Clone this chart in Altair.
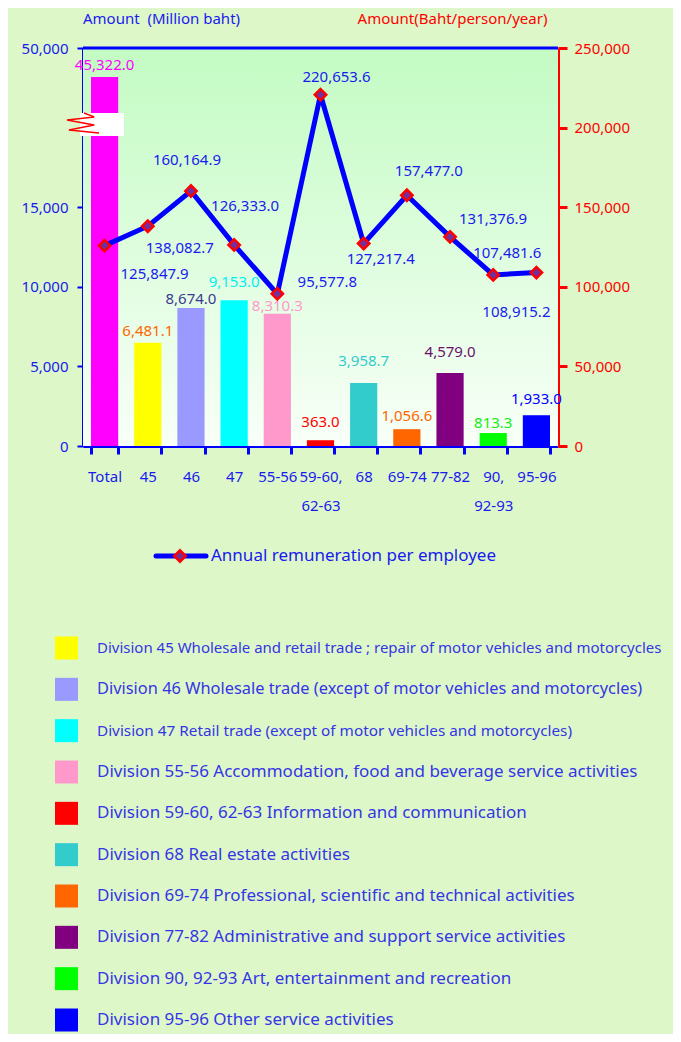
import altair as alt
import pandas as pd

# ---------------- data ----------------
codes = ["Total", "45", "46", "47", "55-56", "59-60, 62-63", "68", "69-74",
         "77-82", "90, 92-93", "95-96"]
divisions = [
    "Total",
    "Division 45 Wholesale and retail trade ; repair of motor vehicles and  motorcycles",
    "Division 46 Wholesale trade (except of motor vehicles and motorcycles)",
    "Division 47 Retail trade (except of motor vehicles and motorcycles)",
    "Division 55-56 Accommodation, food and beverage service activities",
    "Division 59-60, 62-63 Information and communication",
    "Division 68 Real estate activities",
    "Division 69-74 Professional, scientific and technical activities",
    "Division 77-82 Administrative and support service activities",
    "Division 90, 92-93 Art, entertainment and recreation",
    "Division 95-96 Other service activities",
]
amount_million = [45322.0, 6481.1, 8674.0, 9153.0, 8310.3, 363.0, 3958.7,
                  1056.6, 4579.0, 813.3, 1933.0]
remuneration = [125847.9, 138082.7, 160164.9, 126333.0, 95577.8, 220653.6,
                127217.4, 157477.0, 131376.9, 107481.6, 108915.2]
line_series_name = "Annual remuneration per employee"

# ---------------- styles ----------------
bar_colors = ["#ff00ff", "#ffff00", "#9999ff", "#00ffff", "#ff99cc", "#ff0000",
              "#33cccc", "#ff6600", "#800080", "#00ff00", "#0000ff"]
bar_label_colors = ["#ff00ff", "#ff6600", "#3b3b8f", "#00f0f0", "#ff99cc",
                    "#ff0000", "#33cccc", "#ff6600", "#6b106b", "#11ee11", "#0000ff"]
bar_label_dy = [-12, -12, -9, -18, -8, -18, -22, -13, -21, -10, -16]
line_label_offsets = [(50, 28), (32, 22), (-4, -31), (11, -39), (50, -12),
                      (16, -18), (17, 16), (22, -24), (43, -18), (14, -22),
                      (-20, 39)]
legend_font_sizes = [15, 16.4, 15.3, 17, 17, 17, 17, 17, 17, 17]

# broken left axis: the top tick (drawn at 25,000) reads 50,000
LEFT_TOP_DRAWN = 25000
LEFT_TOP_LABEL = "50,000"
TOTAL_DRAWN = 23180          # Total bar is cut by the axis break
BREAK_LO, BREAK_HI, BREAK_MID = 19470, 20920, 20290

W, H = 475, 398
BLUE = "#0000ff"
TXT_BLUE = "#1a1af0"
LEG_BLUE = "#3535e6"
RED = "#ff0000"
FONT = "Noto Sans"

df = pd.DataFrame({
    "code": codes,
    "division": divisions,
    "amount": amount_million,
    "drawn": [TOTAL_DRAWN if c == "Total" else a for c, a in zip(codes, amount_million)],
    "remun": remuneration,
    "label_color": bar_label_colors,
})
df["amount_txt"] = [f"{v:,.1f}" for v in amount_million]
df["remun_txt"] = [f"{v:,.1f}" for v in remuneration]

legend_df = pd.DataFrame({
    "division": divisions[1:],
    "color": bar_colors[1:],
    "fs": legend_font_sizes,
})

one = pd.DataFrame({"k": [0]})

x_enc = alt.X(
    "code:N", sort=codes, title=None,
    scale=alt.Scale(paddingInner=0.37, paddingOuter=0.185),
    axis=alt.Axis(
        domainColor=BLUE, domainWidth=3, tickColor=BLUE, tickWidth=3, tickSize=8,
        tickBand="extent", labelColor=TXT_BLUE, labelFontSize=15, labelFont=FONT,
        labelPadding=15, labelAngle=0, labelLineHeight=29, labelOverlap=False,
        labelBound=False, labelLimit=200,
        labelExpr="split(replace(datum.label, ', ', ',|'), '|')",
    ),
)

left_scale = alt.Scale(domain=[0, LEFT_TOP_DRAWN], nice=False, zero=True)
left_axis = alt.Axis(
    values=[0, 5000, 10000, 15000, LEFT_TOP_DRAWN],
    labelExpr=f"datum.value == {LEFT_TOP_DRAWN} ? '{LEFT_TOP_LABEL}' : format(datum.value, ',')",
    domainColor=BLUE, domainWidth=3, tickColor=BLUE, tickWidth=2, tickSize=6,
    labelColor=TXT_BLUE, labelFontSize=15, labelFont=FONT, labelPadding=9,
    grid=False, title="Amount\u00a0 (Million baht)", titleAngle=0, titleX=78,
    titleY=-30, titleAlign="center", titleBaseline="middle", titleColor=TXT_BLUE,
    titleFontSize=15, titleFontWeight="normal", titleFont=FONT,
)
right_scale = alt.Scale(domain=[0, 250000], nice=False, zero=True)
right_axis = alt.Axis(
    orient="right", values=[0, 50000, 100000, 150000, 200000, 250000],
    labelExpr="format(datum.value, ',')",
    domainColor=RED, domainWidth=3, tickColor=RED, tickWidth=3, tickSize=9,
    labelColor=RED, labelFontSize=15, labelFont=FONT, labelPadding=7, grid=False,
    title="Amount(Baht/person/year)", titleAngle=0, titleX=-106, titleY=-30,
    titleAlign="center", titleBaseline="middle", titleColor=RED, titleFontSize=15,
    titleFontWeight="normal", titleFont=FONT,
)

gradient = alt.LinearGradient(
    gradient="linear", x1=0, x2=0, y1=0, y2=1,
    stops=[alt.GradientStop(offset=0, color="#c3fbc3"),
           alt.GradientStop(offset=1, color="#f8fff8")],
)

bg = alt.Chart(one).mark_rect(fill=gradient).encode(
    x=alt.value(0), x2=alt.value(W), y=alt.value(0), y2=alt.value(H))
top_rule = alt.Chart(one).mark_rule(color=BLUE, strokeWidth=3).encode(
    x=alt.value(0), x2=alt.value(W), y=alt.value(0))

bars = alt.Chart(df).mark_bar(opacity=1).encode(
    x=x_enc,
    y=alt.Y("drawn:Q", scale=left_scale, axis=left_axis),
    color=alt.Color("division:N",
                    scale=alt.Scale(domain=divisions, range=bar_colors),
                    legend=None),
)

bar_labels = []
for c, dy in zip(codes, bar_label_dy):
    bar_labels.append(
        alt.Chart(df).transform_filter(alt.datum.code == c)
        .mark_text(fontSize=15, font=FONT, baseline="middle", align="center", dy=dy)
        .encode(x=x_enc, y=alt.Y("drawn:Q", scale=left_scale, axis=left_axis),
                text="amount_txt:N", color=alt.Color("label_color:N", scale=None))
    )

break_rect = alt.Chart(one).mark_rect(fill="white").encode(
    x=alt.value(-3), x2=alt.value(41),
    y=alt.datum(BREAK_LO, scale=left_scale, axis=left_axis), y2=alt.datum(BREAK_HI))
zigzag = alt.Chart(one).mark_point(
    shape="M0.06,-0.62L0.7,-0.38L-1,-0.19L0.7,0.12L-0.88,0.44L1,0.62",
    size=1024, filled=False, fill="transparent", stroke=RED, strokeWidth=1.5,
    opacity=1,
).encode(x=alt.value(0), y=alt.datum(BREAK_MID, scale=left_scale, axis=left_axis))

left_group = alt.layer(bg, bars, *bar_labels, break_rect, zigzag, top_rule)

line = alt.Chart(df).mark_line(color=BLUE, strokeWidth=5).encode(
    x=x_enc, y=alt.Y("remun:Q", scale=right_scale, axis=right_axis))
pts = alt.Chart(df).mark_point(
    shape="diamond", size=130, filled=True, fill="#7030a0", stroke=RED,
    strokeWidth=2.5, opacity=1,
).encode(x=x_enc, y=alt.Y("remun:Q", scale=right_scale, axis=right_axis))

line_labels = []
for c, (dx, dy) in zip(codes, line_label_offsets):
    line_labels.append(
        alt.Chart(df).transform_filter(alt.datum.code == c)
        .mark_text(fontSize=15, font=FONT, color=TXT_BLUE, baseline="middle",
                   align="center", dx=dx, dy=dy)
        .encode(x=x_enc, y=alt.Y("remun:Q", scale=right_scale, axis=right_axis),
                text="remun_txt:N")
    )

leg_line = alt.Chart(one).mark_rule(color=BLUE, strokeWidth=5, strokeCap="round").encode(
    x=alt.value(73), x2=alt.value(123), y=alt.value(508))
leg_pt = alt.Chart(one).mark_point(
    shape="diamond", size=130, filled=True, fill="#7030a0", stroke=RED,
    strokeWidth=2.5, opacity=1).encode(x=alt.value(97), y=alt.value(508))
leg_txt = alt.Chart(one).mark_text(
    fontSize=17, font=FONT, color=TXT_BLUE, align="left", baseline="middle").encode(
    x=alt.value(128), y=alt.value(508), text=alt.value(line_series_name))

right_group = alt.layer(line, pts, *line_labels, leg_line, leg_pt, leg_txt)

# division legend (below the chart)
leg_scale = alt.Scale(type="point", domain=divisions[1:], range=[600, 972], padding=0)
leg_squares = alt.Chart(legend_df).mark_point(
    shape="square", size=529, filled=True, opacity=1, strokeWidth=0).encode(
    x=alt.value(-16.5),
    y=alt.Y("division:N", scale=leg_scale, axis=None),
    color=alt.Color("color:N", scale=None))
leg_labels = alt.Chart(legend_df).mark_text(
    font=FONT, color=LEG_BLUE, align="left", baseline="middle").encode(
    x=alt.value(14),
    y=alt.Y("division:N", scale=leg_scale, axis=None),
    text="division:N",
    size=alt.Size("fs:Q", scale=None))
legend_group = alt.layer(leg_squares, leg_labels)

chart = (
    alt.layer(left_group, right_group, legend_group)
    .resolve_scale(y="independent", color="independent")
    .properties(width=W, height=H, autosize="none",
                padding={"left": 75, "top": 40, "right": 115, "bottom": 588})
    .configure(background="#ddf7c9", font=FONT)
    .configure_view(stroke=None)
)

chart.save("out.html", embed_options={"renderer": "svg", "actions": False})
